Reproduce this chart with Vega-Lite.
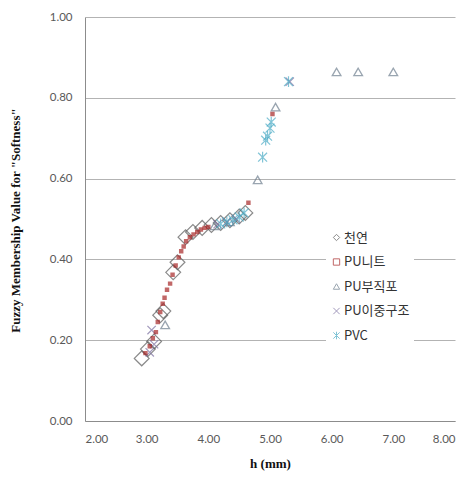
{
  "$schema": "https://vega.github.io/schema/vega-lite/v6.json",
  "autosize": "none",
  "width": 370,
  "height": 404,
  "padding": {"left": 85, "top": 17, "right": 15, "bottom": 58},
  "background": "white",
  "config": {
    "view": {"stroke": null},
    "axis": {
      "labelFont": "Lato",
      "labelFontSize": 11.5,
      "labelColor": "#595959",
      "domainColor": "#8c8c8c",
      "ticks": false,
      "titleFont": "Liberation Serif",
      "titleFontWeight": "bold",
      "titleFontSize": 13,
      "titleColor": "#111111"
    },
    "legend": {
      "orient": "none",
      "legendX": 241,
      "legendY": 210,
      "fillColor": "white",
      "padding": 4,
      "labelFont": "Noto Sans CJK KR",
      "labelFontSize": 13,
      "labelColor": "#333333",
      "symbolSize": 40,
      "symbolStrokeWidth": 1,
      "rowPadding": 10.5,
      "labelOffset": 1
    }
  },
  "data": {
    "values": [
      {"h": 2.92, "v": 0.155, "s": "천연"},
      {"h": 3.02, "v": 0.178, "s": "천연"},
      {"h": 3.12, "v": 0.197, "s": "천연"},
      {"h": 3.22, "v": 0.262, "s": "천연"},
      {"h": 3.27, "v": 0.272, "s": "천연"},
      {"h": 3.43, "v": 0.368, "s": "천연"},
      {"h": 3.50, "v": 0.393, "s": "천연"},
      {"h": 3.63, "v": 0.455, "s": "천연"},
      {"h": 3.75, "v": 0.468, "s": "천연"},
      {"h": 3.90, "v": 0.478, "s": "천연"},
      {"h": 4.05, "v": 0.485, "s": "천연"},
      {"h": 4.20, "v": 0.490, "s": "천연"},
      {"h": 4.35, "v": 0.497, "s": "천연"},
      {"h": 4.50, "v": 0.506, "s": "천연"},
      {"h": 4.60, "v": 0.515, "s": "천연"},

      {"h": 2.98, "v": 0.168, "s": "PU니트"},
      {"h": 3.05, "v": 0.185, "s": "PU니트"},
      {"h": 3.10, "v": 0.205, "s": "PU니트"},
      {"h": 3.15, "v": 0.220, "s": "PU니트"},
      {"h": 3.18, "v": 0.245, "s": "PU니트"},
      {"h": 3.22, "v": 0.270, "s": "PU니트"},
      {"h": 3.26, "v": 0.290, "s": "PU니트"},
      {"h": 3.29, "v": 0.305, "s": "PU니트"},
      {"h": 3.33, "v": 0.325, "s": "PU니트"},
      {"h": 3.38, "v": 0.340, "s": "PU니트"},
      {"h": 3.42, "v": 0.362, "s": "PU니트"},
      {"h": 3.47, "v": 0.385, "s": "PU니트"},
      {"h": 3.52, "v": 0.405, "s": "PU니트"},
      {"h": 3.56, "v": 0.420, "s": "PU니트"},
      {"h": 3.60, "v": 0.432, "s": "PU니트"},
      {"h": 3.64, "v": 0.445, "s": "PU니트"},
      {"h": 3.70, "v": 0.455, "s": "PU니트"},
      {"h": 3.76, "v": 0.462, "s": "PU니트"},
      {"h": 3.82, "v": 0.468, "s": "PU니트"},
      {"h": 3.88, "v": 0.474, "s": "PU니트"},
      {"h": 3.94, "v": 0.478, "s": "PU니트"},
      {"h": 4.00, "v": 0.480, "s": "PU니트"},
      {"h": 4.65, "v": 0.540, "s": "PU니트"},
      {"h": 5.04, "v": 0.760, "s": "PU니트"},

      {"h": 3.30, "v": 0.238, "s": "PU부직포"},
      {"h": 4.10, "v": 0.483, "s": "PU부직포"},
      {"h": 4.35, "v": 0.493, "s": "PU부직포"},
      {"h": 4.80, "v": 0.597, "s": "PU부직포"},
      {"h": 5.09, "v": 0.777, "s": "PU부직포"},
      {"h": 6.08, "v": 0.864, "s": "PU부직포"},
      {"h": 6.43, "v": 0.864, "s": "PU부직포"},
      {"h": 7.00, "v": 0.864, "s": "PU부직포"},

      {"h": 3.05, "v": 0.170, "s": "PU이중구조"},
      {"h": 3.08, "v": 0.225, "s": "PU이중구조"},
      {"h": 3.12, "v": 0.190, "s": "PU이중구조"},
      {"h": 4.15, "v": 0.487, "s": "PU이중구조"},
      {"h": 4.30, "v": 0.492, "s": "PU이중구조"},
      {"h": 4.45, "v": 0.500, "s": "PU이중구조"},
      {"h": 5.32, "v": 0.840, "s": "PU이중구조"},

      {"h": 4.20, "v": 0.488, "s": "PVC"},
      {"h": 4.30, "v": 0.493, "s": "PVC"},
      {"h": 4.40, "v": 0.498, "s": "PVC"},
      {"h": 4.50, "v": 0.505, "s": "PVC"},
      {"h": 4.58, "v": 0.515, "s": "PVC"},
      {"h": 4.88, "v": 0.653, "s": "PVC"},
      {"h": 4.93, "v": 0.695, "s": "PVC"},
      {"h": 4.96, "v": 0.705, "s": "PVC"},
      {"h": 5.00, "v": 0.725, "s": "PVC"},
      {"h": 5.02, "v": 0.740, "s": "PVC"},
      {"h": 5.30, "v": 0.840, "s": "PVC"}
    ]
  },
  "encoding": {
    "x": {
      "field": "h",
      "type": "quantitative",
      "scale": {"domain": [2, 8], "nice": false, "zero": false},
      "axis": {
        "values": [2, 3, 4, 5, 6, 7, 8],
        "format": ".2f",
        "grid": false,
        "labelPadding": 12,
        "title": "h (mm)",
        "titlePadding": 13
      }
    },
    "y": {
      "field": "v",
      "type": "quantitative",
      "scale": {"domain": [0, 1], "nice": false},
      "axis": {
        "values": [0, 0.2, 0.4, 0.6, 0.8, 1.0],
        "format": ".2f",
        "grid": true,
        "gridColor": "#b3b3b3",
        "gridWidth": 1,
        "labelPadding": 13,
        "title": "Fuzzy Membership Value for \"Softness\"",
        "titleX": -63,
        "titleY": 203
      }
    },
    "stroke": {
      "field": "s",
      "type": "nominal",
      "scale": {
        "domain": ["천연", "PU니트", "PU부직포", "PU이중구조", "PVC"],
        "range": ["#595959", "#a82828", "#6f7f8f", "#7b6fa0", "#4bacc6"]
      },
      "legend": {"title": null}
    },
    "shape": {
      "field": "s",
      "type": "nominal",
      "scale": {
        "domain": ["천연", "PU니트", "PU부직포", "PU이중구조", "PVC"],
        "range": ["diamond", "square", "triangle-up", "M-1,-1L1,1M-1,1L1,-1", "M-1,-1L1,1M-1,1L1,-1M0,-1.2L0,1.2"]
      },
      "legend": {"title": null}
    }
  },
  "layer": [
    {
      "transform": [{"filter": "datum.s === '천연'"}],
      "mark": {"type": "point", "filled": false, "size": 220, "strokeWidth": 1.2}
    },
    {
      "transform": [{"filter": "datum.s === 'PU부직포'"}],
      "mark": {"type": "point", "filled": false, "size": 75, "strokeWidth": 1.3}
    },
    {
      "transform": [{"filter": "datum.s === 'PU이중구조'"}],
      "mark": {"type": "point", "filled": false, "size": 70, "strokeWidth": 1.2}
    },
    {
      "transform": [{"filter": "datum.s === 'PVC'"}],
      "mark": {"type": "point", "filled": false, "size": 80, "strokeWidth": 1.2}
    },
    {
      "transform": [{"filter": "datum.s === 'PU니트'"}],
      "mark": {"type": "point", "filled": false, "size": 5, "strokeWidth": 2.2}
    }
  ]
}
